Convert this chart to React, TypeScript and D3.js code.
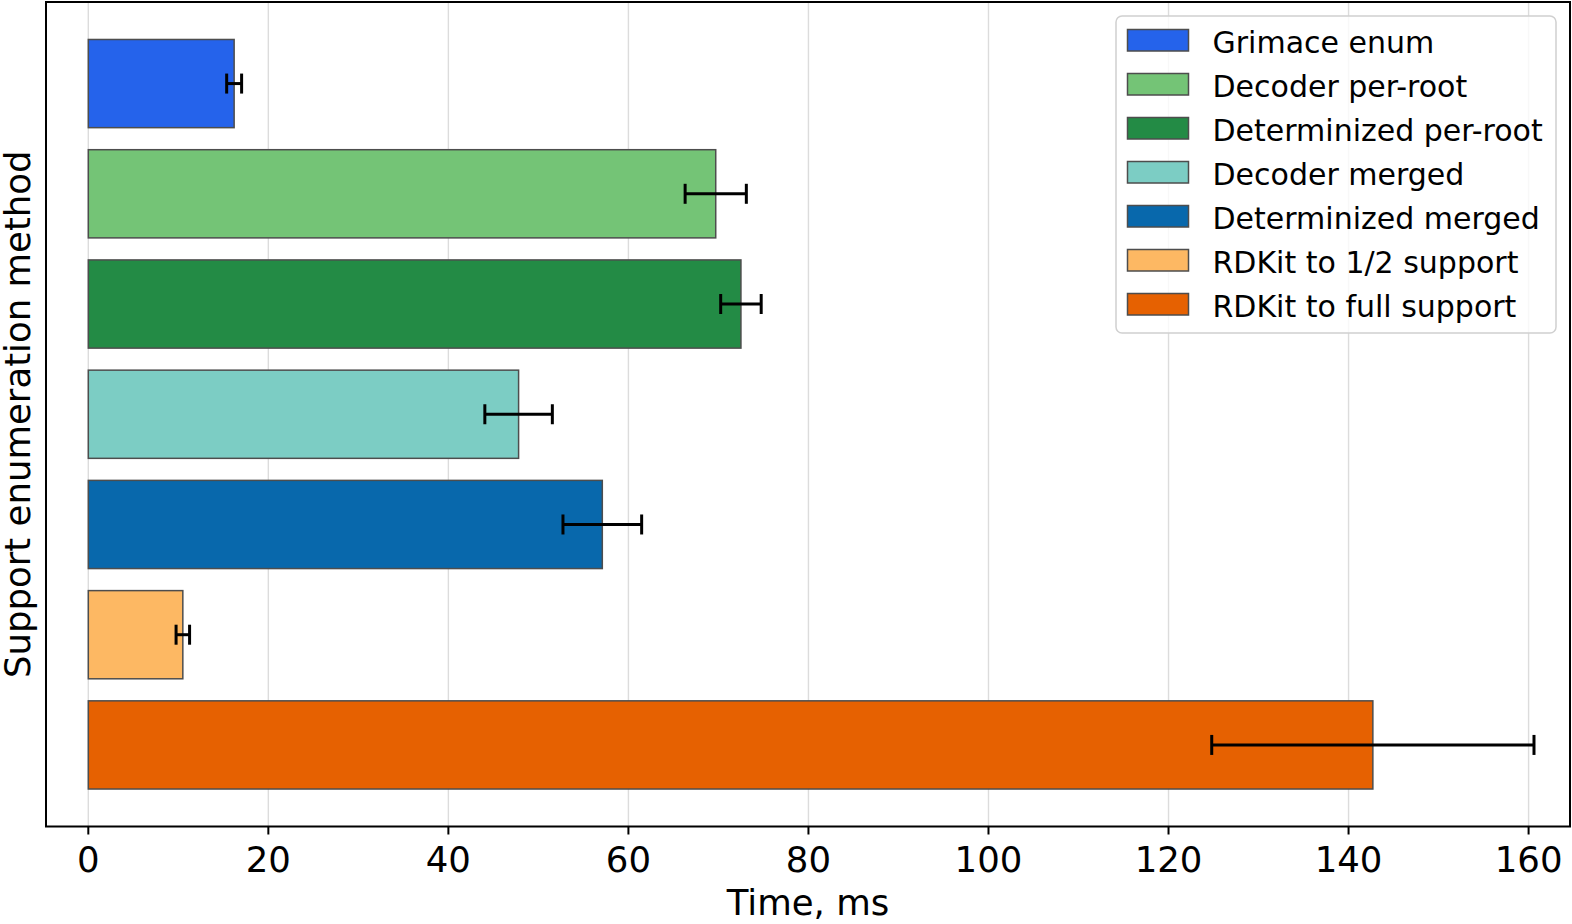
import React, { useEffect } from "react";
import * as d3 from "d3";

// timings per enumeration method (ms), mean and spread
const methods = [
  "Grimace enum",
  "Decoder per-root",
  "Determinized per-root",
  "Decoder merged",
  "Determinized merged",
  "RDKit to 1/2 support",
  "RDKit to full support",
];
const meanTimes = [16.2, 69.7, 72.5, 47.8, 57.1, 10.5, 142.7];
const errTimes = [0.83, 3.4, 2.25, 3.75, 4.37, 0.75, 17.9];
const colors = ["#2563eb", "#74c476", "#238b45", "#7ccdc4", "#0868ac", "#fdb863", "#e66101"];
const xTicks = [0, 20, 40, 60, 80, 100, 120, 140, 160];

const W = 1572;
const H = 924;
const frame = { left: 46, right: 1570, top: 2, bottom: 826.5 };
const FONT = "DejaVu Sans, sans-serif";
const AXIS_FS = 35.5;

export default function App() {
  useEffect(() => {
    document.body.style.margin = "0";
  }, []);

  const x = d3.scaleLinear().domain([-4.7, 164.6]).range([frame.left, frame.right]);
  const y = d3.scaleLinear().domain([-0.74, 6.74]).range([frame.top, frame.bottom]);
  const barH = y(0.8) - y(0);
  const cap = 10;

  return (
    <svg width={W} height={H} style={{ display: "block", background: "#fff" }}>
      {/* grid */}
      {xTicks.map((t) => (
        <line key={"g" + t} x1={x(t)} x2={x(t)} y1={frame.top} y2={frame.bottom} stroke="#dcdcdc" strokeWidth={1.4} />
      ))}

      {/* bars */}
      {methods.map((m, i) => (
        <rect
          key={m}
          x={x(0)}
          y={y(i) - barH / 2}
          width={x(meanTimes[i]) - x(0)}
          height={barH}
          fill={colors[i]}
          stroke="#4d4d4d"
          strokeWidth={1.5}
        />
      ))}

      {/* error bars */}
      {methods.map((m, i) => {
        const cy = y(i);
        const lo = x(meanTimes[i] - errTimes[i]);
        const hi = x(meanTimes[i] + errTimes[i]);
        return (
          <g key={"e" + m} stroke="#000" strokeWidth={3}>
            <line x1={lo} x2={hi} y1={cy} y2={cy} />
            <line x1={lo} x2={lo} y1={cy - cap} y2={cy + cap} />
            <line x1={hi} x2={hi} y1={cy - cap} y2={cy + cap} />
          </g>
        );
      })}

      {/* frame */}
      <rect
        x={frame.left}
        y={frame.top}
        width={frame.right - frame.left}
        height={frame.bottom - frame.top}
        fill="none"
        stroke="#000"
        strokeWidth={2}
      />

      {/* x axis */}
      {xTicks.map((t) => (
        <g key={"t" + t}>
          <line x1={x(t)} x2={x(t)} y1={frame.bottom} y2={frame.bottom + 8} stroke="#000" strokeWidth={2} />
          <text x={x(t)} y={872} textAnchor="middle" fontFamily={FONT} fontSize={AXIS_FS} fill="#000">
            {t}
          </text>
        </g>
      ))}
      <text x={(frame.left + frame.right) / 2} y={915} textAnchor="middle" fontFamily={FONT} fontSize={AXIS_FS} fill="#000">
        Time, ms
      </text>
      <text
        transform={`translate(30,${(frame.top + frame.bottom) / 2}) rotate(-90)`}
        textAnchor="middle"
        fontFamily={FONT}
        fontSize={AXIS_FS}
        fill="#000"
      >
        Support enumeration method
      </text>

      {/* legend */}
      <rect x={1116} y={16} width={440} height={317} rx={6} fill="#fff" fillOpacity={0.8} stroke="#d0d0d0" strokeWidth={1.5} />
      {methods.map((m, i) => (
        <g key={"l" + m} transform={`translate(0,${44 * i})`}>
          <rect x={1127.5} y={29.5} width={61} height={21.5} fill={colors[i]} stroke="#4d4d4d" strokeWidth={1.5} />
          <text x={1212.5} y={52.5} fontFamily={FONT} fontSize={30} fill="#000">
            {m}
          </text>
        </g>
      ))}
    </svg>
  );
}
